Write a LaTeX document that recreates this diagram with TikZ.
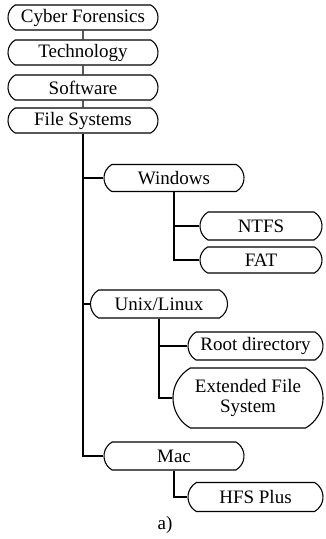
\documentclass[tikz,border=0pt]{standalone}
\usepackage{fontspec}
\setmainfont{Liberation Serif}
\usetikzlibrary{shapes.misc}
\begin{document}
\begin{tikzpicture}[x=1pt,y=-1pt,
  box/.style={draw=black,line width=1.1pt,rounded rectangle,rounded rectangle arc length=120,inner sep=0pt,font=\fontsize{19}{20}\selectfont,align=center},
  conn/.style={draw=black,line width=1.4pt}]
\useasboundingbox (0,0) rectangle (325,539);
\node[box,minimum width=150,minimum height=25] (cf) at (83,17.5) {Cyber Forensics};
\node[box,minimum width=150,minimum height=25] (tech) at (83,52.5) {Technology};
\node[box,minimum width=150,minimum height=25] (sw) at (83,87.5) {Software};
\node[box,minimum width=150,minimum height=25] (fs) at (83,120.5) {File Systems};
\node[box,minimum width=140,minimum height=27] (win) at (174,178) {Windows};
\node[box,minimum width=122,minimum height=28] (ntfs) at (261,226) {NTFS};
\node[box,minimum width=122,minimum height=26] (fat) at (261,260) {FAT};
\node[box,minimum width=137,minimum height=28] (unix) at (159,304) {Unix/Linux};
\node[box,minimum width=135,minimum height=28] (root) at (255.5,346) {Root directory};
\node[box,minimum width=150,minimum height=60] (ext) at (248,398) {Extended File\\System};
\node[box,minimum width=140,minimum height=28] (mac) at (174,456) {Mac};
\node[box,minimum width=135,minimum height=29] (hfs) at (255.5,497) {HFS Plus};
\node[font=\fontsize{19}{20}\selectfont] (lbl) at (165,525) {a)};
\draw[conn] (cf) -- (tech);
\draw[conn] (tech) -- (sw);
\draw[conn] (sw) -- (fs);
\draw[conn] (fs.south) |- (win.west);
\draw[conn] (fs.south) |- (unix.west);
\draw[conn] (fs.south) |- (mac.west);
\draw[conn] (win.south) |- (ntfs.west);
\draw[conn] (win.south) |- (fat.west);
\draw[conn] (unix.south) |- (root.west);
\draw[conn] (unix.south) |- (ext.west);
\draw[conn] (mac.south) |- (hfs.west);
\end{tikzpicture}
\end{document}
